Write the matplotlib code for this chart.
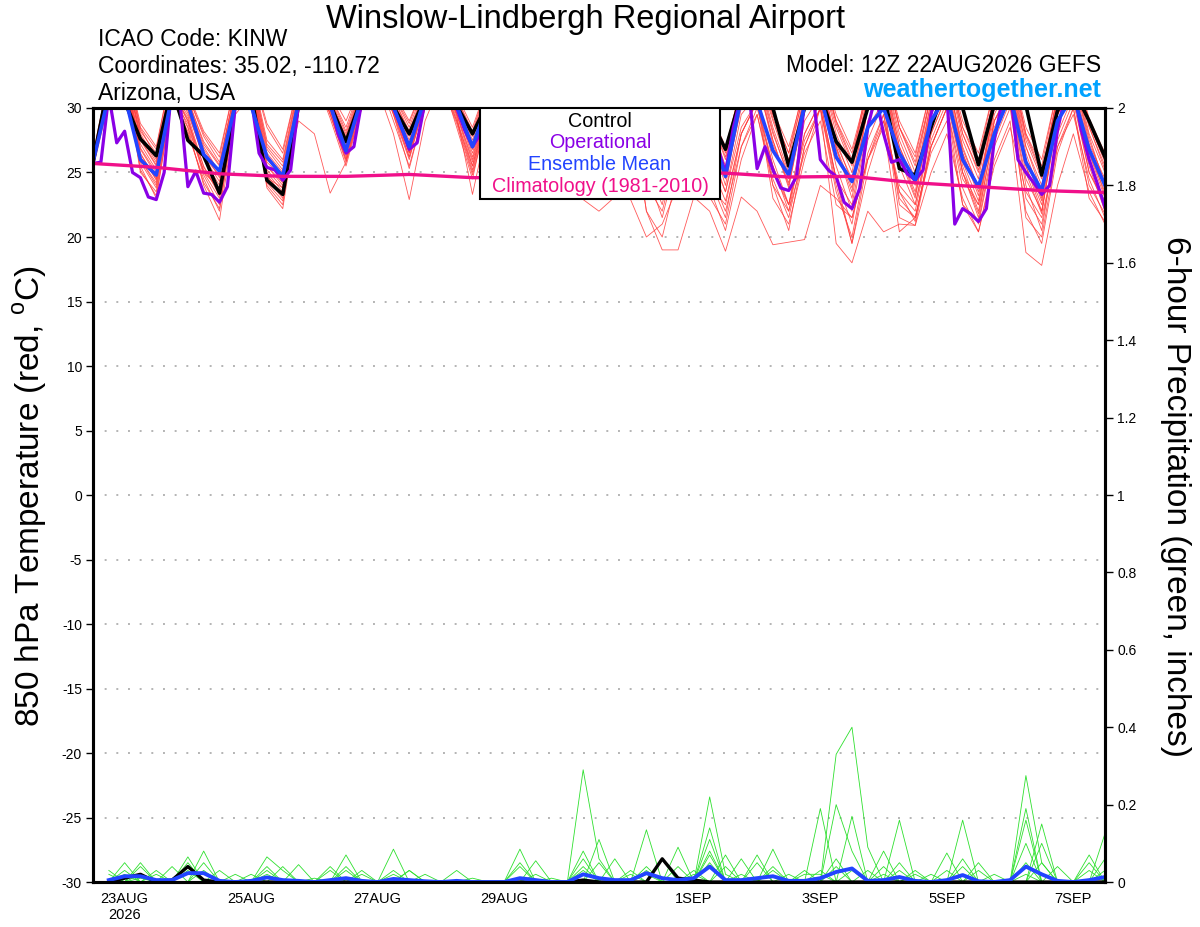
import matplotlib
matplotlib.use("Agg")
import matplotlib.pyplot as plt
import numpy as np
import pandas as pd
from matplotlib.patches import Rectangle

plt.rcParams['font.family'] = ['Liberation Sans', 'DejaVu Sans']
plt.rcParams['mathtext.fontset'] = 'custom'
plt.rcParams['mathtext.rm'] = 'Liberation Sans'
plt.rcParams['axes.unicode_minus'] = False

# 6-hourly GEFS steps from 12Z 22AUG2026, operational run is 3-hourly
t6 = pd.date_range('2026-08-22 12:00', periods=65, freq='6h')
t3 = pd.date_range('2026-08-22 12:00', periods=129, freq='3h')
t_clim = pd.date_range('2026-08-22 12:00', periods=17, freq='24h')
t_precip = t6[1:]

tick_dates = pd.to_datetime(['2026-08-23', '2026-08-25', '2026-08-27', '2026-08-29',
                             '2026-09-01', '2026-09-03', '2026-09-05', '2026-09-07'])
tick_labels = ['23AUG\n2026', '25AUG', '27AUG', '29AUG', '1SEP', '3SEP', '5SEP', '7SEP']

# 850 hPa temperature (C), ensemble members
temp_members = [
    [25.6, 31.0, 33.0, 26.0, 24.0, 31.5, 29.0, 25.5, 23.2, 30.2, 31.8, 25.0, 23.5, 30.5, 33.0, 30.0,
     26.5, 30.8, 33.0, 30.2, 26.8, 31.0, 33.0, 29.6, 26.0, 30.6, 32.8, 29.5, 26.2, 30.8, 32.5, 28.5,
     25.0, 30.0, 32.0, 27.0, 23.5, 29.5, 32.0, 28.0, 24.0, 30.5, 32.0, 27.5, 23.8, 30.0, 32.0, 27.0,
     23.0, 30.0, 32.0, 26.5, 23.2, 29.5, 32.0, 26.5, 23.5, 30.0, 32.0, 26.0, 22.8, 30.0, 32.0, 27.0,
     23.2],
    [26.2, 32.5, 34.0, 28.5, 26.8, 33.0, 31.0, 28.0, 26.2, 32.0, 33.0, 28.5, 26.5, 32.0, 34.0, 31.0,
     28.5, 32.0, 34.0, 31.0, 28.8, 32.0, 34.0, 30.8, 28.2, 32.0, 34.0, 31.0, 28.0, 32.0, 34.0, 30.5,
     27.5, 32.0, 34.0, 30.0, 27.0, 32.0, 34.0, 30.0, 26.5, 32.0, 34.0, 29.5, 26.5, 32.0, 34.0, 29.0,
     26.0, 32.0, 34.0, 28.5, 26.2, 31.5, 33.5, 28.5, 26.0, 31.5, 33.5, 28.0, 25.5, 31.5, 33.5, 29.0,
     26.0],
    [25.5, 30.8, 32.5, 25.0, 23.5, 31.0, 28.0, 24.5, 22.0, 30.0, 31.5, 24.0, 22.5, 30.5, 32.5, 29.5,
     26.0, 30.5, 32.5, 29.8, 26.5, 30.5, 32.5, 29.0, 25.5, 30.0, 32.0, 28.5, 25.5, 30.0, 31.5, 27.0,
     24.5, 28.5, 30.0, 22.0, 19.0, 19.0, 23.1, 22.0, 18.9, 23.1, 22.0, 19.4, 19.6, 19.8, 24.0, 23.0,
     21.5, 26.0, 29.0, 24.0, 22.5, 28.0, 31.0, 25.5, 22.0, 29.0, 31.5, 25.0, 21.8, 29.5, 31.5, 26.0,
     22.5],
    [25.4, 31.0, 32.5, 25.5, 23.0, 30.5, 28.5, 24.0, 21.3, 29.5, 31.0, 23.8, 22.2, 30.0, 32.5, 29.2,
     25.5, 30.0, 32.5, 29.0, 25.5, 30.0, 32.0, 28.8, 24.8, 29.5, 31.5, 27.0, 24.5, 28.5, 30.0, 22.9,
     22.0, 23.1, 22.9, 20.0, 21.0, 24.0, 27.0, 24.0, 22.5, 28.0, 30.5, 25.0, 22.5, 27.5, 30.0, 19.5,
     18.0, 22.0, 20.4, 21.0, 20.9, 25.0, 28.0, 23.0, 20.4, 26.0, 29.0, 18.8, 17.8, 24.0, 28.0, 23.5,
     21.0],
    [25.9, 32.0, 33.5, 27.5, 25.5, 32.5, 30.5, 27.0, 25.0, 31.0, 32.5, 26.5, 25.0, 31.0, 33.5, 30.8,
     27.5, 31.5, 33.5, 30.5, 27.5, 31.5, 33.5, 30.5, 27.0, 31.2, 33.0, 30.2, 27.0, 31.0, 33.0, 29.5,
     26.5, 31.0, 33.0, 29.0, 26.0, 31.0, 33.0, 29.0, 25.5, 31.0, 33.0, 28.5, 25.0, 31.0, 33.0, 28.0,
     25.0, 31.0, 33.0, 27.5, 24.5, 30.5, 33.0, 27.5, 24.5, 31.0, 33.0, 27.0, 24.0, 31.0, 33.0, 28.0,
     25.0],
    [25.7, 31.5, 33.0, 26.8, 24.8, 31.8, 29.8, 26.0, 24.0, 30.8, 32.0, 25.5, 24.0, 29.0, 28.0, 23.4,
     25.8, 30.0, 31.5, 28.0, 22.9, 29.0, 32.0, 29.0, 25.0, 30.0, 32.5, 29.0, 25.8, 30.5, 32.5, 28.0,
     24.5, 29.0, 31.0, 24.0, 22.0, 27.0, 30.5, 26.5, 23.5, 29.5, 31.0, 26.0, 22.5, 29.0, 31.0, 25.5,
     22.0, 28.5, 30.5, 21.5, 20.9, 27.0, 30.0, 24.5, 22.5, 29.0, 31.0, 24.5, 22.0, 29.0, 31.0, 25.5,
     22.0],
    [26.0, 32.0, 33.2, 28.0, 26.0, 32.0, 30.8, 27.2, 25.5, 31.5, 32.8, 27.0, 25.5, 31.5, 33.5, 30.6,
     27.8, 31.5, 33.5, 30.8, 28.0, 31.5, 33.5, 30.5, 27.5, 31.5, 33.5, 30.3, 27.0, 31.5, 33.0, 29.8,
     26.5, 31.0, 33.0, 29.5, 26.5, 31.0, 33.0, 29.5, 26.0, 31.0, 33.0, 29.0, 25.5, 31.0, 33.0, 28.5,
     25.5, 31.0, 33.0, 28.0, 25.0, 31.0, 33.0, 28.0, 25.0, 31.0, 33.0, 27.5, 24.5, 31.0, 33.0, 28.5,
     25.5],
    [25.5, 31.2, 32.8, 26.2, 24.5, 31.2, 29.2, 25.0, 23.8, 30.5, 31.8, 25.5, 24.2, 30.8, 33.0, 30.0,
     27.0, 31.0, 33.0, 30.0, 27.2, 31.0, 33.0, 30.0, 26.5, 30.8, 33.0, 29.5, 26.0, 30.5, 32.5, 28.8,
     25.5, 30.0, 32.0, 27.5, 24.0, 29.0, 31.5, 27.0, 23.5, 28.5, 30.5, 23.0, 21.0, 26.0, 30.0, 24.5,
     22.5, 29.0, 31.5, 25.5, 22.5, 28.5, 31.5, 25.0, 22.5, 29.0, 31.5, 25.5, 22.0, 29.5, 31.5, 26.5,
     23.0],
    [26.1, 31.8, 33.5, 27.8, 25.8, 32.2, 30.2, 26.8, 25.0, 31.2, 32.5, 26.8, 25.2, 31.2, 33.2, 30.5,
     27.2, 31.2, 33.2, 30.5, 27.2, 31.2, 33.2, 30.2, 26.8, 31.0, 33.0, 30.0, 26.5, 31.0, 33.0, 29.0,
     26.0, 30.5, 32.5, 28.5, 25.5, 30.5, 32.5, 28.5, 25.0, 30.5, 32.5, 27.5, 24.0, 30.0, 32.5, 27.0,
     23.8, 30.0, 32.5, 26.5, 23.5, 30.0, 32.5, 27.0, 23.8, 30.5, 32.5, 26.5, 23.0, 30.5, 32.5, 27.5,
     24.2],
    [25.3, 30.5, 32.5, 25.8, 23.8, 30.8, 28.8, 24.8, 22.5, 30.0, 31.5, 24.5, 23.0, 30.5, 32.8, 29.8,
     26.2, 30.5, 32.8, 29.5, 26.0, 30.5, 32.5, 29.5, 25.5, 30.5, 32.5, 29.0, 25.8, 30.0, 32.0, 28.0,
     25.0, 29.5, 31.5, 26.5, 23.0, 28.5, 31.0, 25.0, 22.0, 27.0, 29.5, 24.0, 22.0, 26.5, 29.0, 22.5,
     21.5, 26.0, 28.5, 20.4, 21.5, 26.5, 29.0, 22.5, 20.4, 25.5, 28.5, 23.5, 21.5, 27.0, 29.5, 24.5,
     21.5],
    [25.8, 31.5, 33.0, 27.2, 25.2, 32.0, 30.0, 26.2, 24.8, 31.0, 32.2, 26.0, 24.8, 31.0, 33.2, 30.4,
     26.8, 30.8, 33.0, 30.2, 26.5, 30.8, 33.0, 30.0, 26.2, 30.8, 33.0, 29.8, 26.8, 31.0, 33.0, 29.2,
     26.2, 30.8, 32.8, 28.8, 25.5, 30.5, 32.8, 28.2, 24.8, 30.5, 32.5, 28.0, 24.8, 30.5, 32.5, 27.5,
     24.2, 30.5, 32.5, 27.0, 24.2, 30.0, 32.5, 26.8, 23.8, 30.0, 32.5, 27.0, 23.5, 30.5, 32.5, 27.8,
     24.0],
    [25.6, 31.2, 32.8, 26.5, 24.4, 31.5, 28.5, 25.2, 23.5, 30.5, 31.8, 24.8, 23.2, 30.2, 32.8, 29.5,
     25.8, 30.2, 32.8, 29.5, 25.3, 30.0, 32.5, 28.5, 24.5, 30.0, 32.0, 28.0, 24.8, 29.5, 31.5, 27.5,
     23.5, 28.5, 30.5, 22.0, 20.0, 25.0, 28.0, 23.1, 21.0, 27.0, 30.0, 25.5, 22.5, 28.0, 30.5, 24.5,
     19.5, 25.0, 29.0, 23.5, 22.0, 28.0, 31.0, 25.0, 21.5, 28.5, 31.0, 24.0, 20.5, 28.0, 31.0, 25.0,
     22.5],
    [26.3, 32.2, 33.8, 28.2, 26.5, 32.5, 31.0, 27.8, 25.8, 31.5, 33.0, 27.5, 26.0, 31.8, 33.8, 31.0,
     28.2, 31.8, 33.8, 31.0, 28.5, 31.8, 33.8, 30.8, 28.0, 31.8, 33.5, 30.5, 27.5, 31.5, 33.5, 30.0,
     27.0, 31.5, 33.5, 29.8, 26.5, 31.5, 33.5, 29.5, 26.2, 31.5, 33.5, 29.2, 26.0, 31.5, 33.5, 28.8,
     25.8, 31.5, 33.5, 28.5, 25.5, 31.0, 33.5, 28.0, 25.2, 31.0, 33.5, 28.0, 25.0, 31.0, 33.5, 28.8,
     25.8],
    [25.4, 30.8, 32.6, 25.2, 23.2, 30.6, 28.2, 24.2, 22.2, 29.8, 31.2, 24.2, 22.8, 30.2, 32.6, 29.6,
     26.0, 30.4, 32.6, 29.6, 26.2, 30.4, 32.6, 29.2, 25.2, 30.2, 32.2, 28.8, 25.2, 30.0, 31.8, 27.5,
     24.0, 29.0, 31.0, 26.0, 23.5, 28.5, 31.0, 25.8, 22.8, 28.0, 30.5, 25.5, 22.0, 28.0, 30.5, 24.5,
     21.0, 27.5, 30.5, 22.5, 21.5, 27.0, 30.0, 23.8, 21.0, 27.0, 30.0, 22.0, 19.5, 26.5, 30.0, 24.0,
     21.8],
    [25.9, 31.6, 33.2, 27.6, 25.6, 32.2, 30.6, 26.6, 24.6, 31.0, 32.4, 26.2, 24.4, 31.0, 33.4, 30.6,
     27.6, 31.2, 33.4, 30.6, 27.8, 31.2, 33.4, 30.4, 27.2, 31.2, 33.2, 30.0, 26.8, 31.0, 33.0, 29.4,
     26.0, 30.8, 32.8, 28.6, 25.0, 30.5, 32.8, 28.0, 25.2, 30.8, 32.8, 28.2, 24.5, 30.5, 32.8, 27.2,
     24.5, 30.5, 32.8, 27.0, 24.0, 30.5, 32.8, 26.5, 23.2, 30.0, 32.5, 26.0, 23.2, 30.5, 32.5, 27.2,
     24.5],
    [25.5, 31.0, 32.8, 26.0, 24.2, 31.2, 29.0, 25.0, 23.0, 30.2, 31.6, 24.6, 23.8, 30.6, 32.8, 30.0,
     26.5, 30.6, 32.8, 29.8, 26.2, 30.6, 32.8, 29.6, 25.8, 30.4, 32.6, 29.2, 25.5, 30.2, 32.2, 28.0,
     24.2, 29.5, 31.5, 25.0, 21.5, 26.5, 29.0, 23.8, 20.5, 26.0, 29.5, 24.5, 21.5, 27.0, 30.0, 24.0,
     19.5, 26.0, 29.5, 23.5, 21.2, 27.5, 30.5, 25.0, 21.8, 28.0, 31.0, 23.0, 21.0, 27.5, 30.5, 25.0,
     22.8],
    [25.7, 31.4, 33.0, 26.9, 25.0, 31.8, 29.6, 26.2, 24.3, 30.8, 32.2, 25.8, 24.6, 31.0, 33.2, 30.3,
     27.3, 31.0, 33.2, 30.3, 27.0, 31.0, 33.2, 30.2, 26.8, 31.0, 33.0, 29.8, 26.0, 30.8, 32.8, 29.0,
     25.5, 30.5, 32.5, 28.2, 24.8, 30.0, 32.5, 27.5, 24.5, 30.0, 32.2, 27.2, 24.2, 30.0, 32.2, 26.8,
     23.5, 30.0, 32.2, 26.2, 23.0, 29.5, 32.0, 25.8, 22.8, 29.5, 32.0, 25.5, 22.5, 29.5, 32.0, 26.5,
     23.5],
    [26.0, 31.8, 33.4, 28.4, 26.2, 32.4, 30.6, 27.4, 25.6, 31.4, 32.8, 27.2, 25.8, 31.6, 33.6, 30.8,
     28.0, 31.6, 33.6, 30.8, 28.2, 31.6, 33.6, 30.6, 27.8, 31.6, 33.4, 30.4, 27.6, 31.4, 33.4, 30.0,
     27.0, 31.2, 33.2, 29.6, 26.8, 31.2, 33.2, 29.5, 26.8, 31.2, 33.2, 29.5, 26.5, 31.2, 33.2, 29.0,
     26.5, 31.2, 33.2, 28.5, 25.8, 31.0, 33.2, 28.5, 25.5, 31.0, 33.2, 27.8, 24.8, 31.0, 33.2, 28.6,
     25.2],
    [25.6, 31.0, 32.8, 26.4, 24.6, 31.4, 29.4, 25.4, 23.6, 30.4, 31.8, 25.2, 23.8, 30.4, 32.8, 29.8,
     26.4, 30.6, 32.8, 29.8, 26.6, 30.6, 32.8, 29.4, 23.3, 29.0, 32.0, 28.5, 25.0, 30.0, 32.0, 27.5,
     23.0, 28.5, 31.0, 25.5, 22.5, 28.5, 31.0, 24.5, 21.5, 28.0, 30.5, 24.0, 20.5, 27.0, 30.0, 23.5,
     20.0, 26.5, 29.5, 23.0, 21.5, 27.0, 30.0, 22.5, 21.2, 27.5, 30.5, 21.5, 20.0, 27.0, 30.0, 23.0,
     21.2],
    [26.4, 32.4, 33.8, 28.8, 27.0, 33.0, 31.2, 28.2, 26.5, 32.0, 33.2, 28.8, 26.8, 32.0, 34.0, 31.2,
     29.0, 32.0, 34.0, 31.2, 29.0, 32.0, 34.0, 31.0, 28.5, 32.0, 34.0, 31.0, 28.0, 31.8, 33.8, 30.5,
     27.2, 31.5, 33.5, 30.0, 26.8, 31.5, 33.5, 29.8, 27.0, 31.5, 33.5, 29.8, 27.0, 31.5, 33.5, 29.5,
     26.8, 31.5, 33.5, 29.0, 26.5, 31.5, 33.5, 29.0, 26.5, 31.5, 33.5, 28.5, 26.0, 31.5, 33.5, 29.2,
     26.5],
]

temp_control = [25.8, 32.0, 30.5, 27.6, 26.3, 31.5, 27.5, 26.3, 23.4, 30.3, 31.0, 24.4, 23.3, 30.2, 33.0, 30.3,
                27.4, 30.8, 33.0, 30.1, 28.0, 30.8, 33.0, 30.2, 28.0, 30.5, 33.0, 30.0, 27.5, 31.0, 33.0, 29.5,
                27.0, 31.0, 33.0, 30.0, 27.0, 31.0, 33.0, 29.3, 26.8, 31.0, 33.0, 30.0, 25.5, 30.0, 31.0, 27.4,
                25.8, 30.0, 31.2, 25.3, 24.8, 28.5, 32.0, 30.0, 25.6, 30.3, 32.0, 30.2, 24.8, 29.8, 31.5, 29.0,
                26.2]

temp_mean = [25.8, 31.0, 31.0, 26.0, 24.8, 31.0, 30.3, 26.4, 25.1, 30.3, 30.2, 26.2, 24.7, 30.5, 32.0, 30.2,
             26.7, 30.8, 32.0, 30.1, 27.0, 30.8, 32.0, 30.2, 27.0, 30.5, 32.0, 30.0, 26.5, 31.0, 32.0, 29.5,
             26.0, 30.5, 32.0, 29.5, 25.5, 30.5, 32.0, 28.5, 24.7, 30.8, 30.5, 26.7, 24.8, 30.2, 31.0, 26.2,
             24.3, 28.5, 30.0, 26.5, 24.4, 29.0, 31.0, 26.0, 23.9, 28.0, 31.0, 25.8, 23.6, 29.0, 31.0, 26.8,
             24.0]

temp_oper = [25.7, 25.8, 31.0, 27.3, 28.2, 25.0, 24.6, 23.1,
             22.9, 25.0, 32.0, 30.5, 23.9, 25.1, 23.4, 23.3,
             22.7, 23.9, 30.2, 32.0, 30.8, 26.5, 25.4, 25.2,
             24.4, 25.2, 30.3, 32.0, 33.0, 32.0, 30.5, 28.0,
             26.5, 27.0, 30.5, 33.0, 33.5, 32.0, 30.0, 28.5,
             26.8, 27.3, 30.5, 33.0, 33.5, 32.0, 30.0, 28.3,
             27.0, 28.0, 30.5, 33.0, 33.5, 32.0, 30.0, 28.0,
             26.5, 27.5, 30.5, 33.0, 33.5, 32.0, 29.5, 27.5,
             26.0, 27.0, 30.0, 32.5, 33.0, 31.5, 29.0, 27.0,
             25.5, 26.5, 29.5, 32.0, 33.0, 31.5, 29.0, 27.0,
             25.0, 28.5, 31.0, 31.0, 25.3, 27.0, 25.2, 23.8,
             23.6, 24.7, 30.5, 31.5, 26.0, 25.2, 24.7, 22.7,
             22.2, 23.8, 28.5, 31.0, 28.0, 25.8, 26.0, 24.9,
             24.4, 25.2, 29.5, 32.0, 31.0, 21.0, 22.2, 21.8,
             21.2, 22.2, 27.5, 30.5, 31.5, 26.0, 25.0, 24.2,
             23.3, 24.0, 28.3, 31.0, 31.5, 28.3, 26.0, 24.2,
             22.3]

temp_clim = [25.7, 25.4, 24.9, 24.7, 24.7, 24.85, 24.6, 24.6, 24.8, 25.0, 24.95, 24.65, 24.7,
             24.2, 23.9, 23.6, 23.45]

# 6-hour precipitation (inches), ensemble members, 18Z 22AUG onward
precip_members = [
    [0, 0.05, 0, 0, 0, 0, 0.08, 0, 0, 0, 0, 0, 0, 0, 0, 0.04,
     0, 0, 0, 0, 0, 0, 0, 0, 0, 0, 0, 0, 0, 0, 0.29, 0.06,
     0, 0, 0, 0, 0, 0, 0.05, 0, 0, 0, 0, 0, 0, 0, 0.33, 0.4,
     0.09, 0, 0, 0, 0, 0, 0.04, 0, 0, 0, 0.1, 0, 0, 0, 0, 0],
    [0, 0, 0.05, 0, 0, 0.065, 0, 0, 0, 0, 0.03, 0, 0, 0, 0, 0,
     0, 0, 0.085, 0, 0, 0, 0, 0, 0, 0, 0.04, 0, 0, 0, 0, 0,
     0, 0, 0.135, 0, 0, 0, 0.22, 0.02, 0, 0, 0, 0, 0, 0.19, 0, 0,
     0, 0, 0.05, 0, 0, 0, 0, 0, 0, 0, 0.275, 0.05, 0, 0, 0, 0],
    [0.03, 0, 0, 0, 0, 0.05, 0, 0, 0, 0, 0.065, 0.03, 0, 0, 0, 0,
     0, 0, 0, 0, 0, 0, 0, 0, 0, 0, 0, 0.055, 0, 0, 0, 0.11,
     0, 0, 0, 0, 0.09, 0, 0, 0, 0, 0, 0.085, 0, 0, 0, 0.2, 0.08,
     0, 0, 0, 0, 0, 0, 0.16, 0, 0, 0, 0, 0, 0, 0, 0, 0.125],
    [0, 0, 0.04, 0, 0, 0, 0.05, 0, 0, 0, 0, 0, 0, 0, 0, 0.07,
     0, 0, 0, 0.03, 0, 0, 0, 0, 0, 0, 0.085, 0, 0, 0, 0.08, 0,
     0, 0, 0, 0, 0, 0, 0.14, 0, 0, 0.07, 0, 0, 0, 0, 0, 0.17,
     0, 0.08, 0, 0, 0, 0, 0, 0, 0, 0, 0.19, 0, 0, 0, 0.05, 0],
    [0, 0.03, 0, 0.03, 0, 0, 0, 0, 0, 0, 0, 0, 0.045, 0, 0, 0,
     0, 0, 0, 0, 0, 0, 0.03, 0, 0, 0, 0, 0, 0, 0, 0.06, 0,
     0, 0, 0.04, 0, 0, 0, 0.11, 0, 0.06, 0, 0, 0, 0, 0, 0.06, 0,
     0, 0, 0.16, 0, 0, 0, 0, 0, 0, 0, 0, 0.15, 0, 0, 0, 0.06],
    [0, 0, 0, 0, 0.04, 0, 0, 0, 0, 0, 0.04, 0, 0, 0, 0.04, 0,
     0, 0, 0, 0, 0, 0, 0, 0, 0, 0, 0.05, 0, 0, 0, 0, 0.05,
     0, 0, 0, 0.06, 0, 0, 0.08, 0, 0, 0, 0.04, 0, 0, 0, 0, 0.03,
     0, 0, 0, 0, 0, 0.075, 0, 0, 0, 0, 0.16, 0, 0, 0, 0.07, 0],
    [0, 0, 0, 0, 0, 0.04, 0, 0, 0, 0, 0, 0.04, 0, 0, 0, 0,
     0.03, 0, 0, 0, 0, 0, 0, 0, 0, 0, 0, 0, 0, 0, 0.04, 0,
     0, 0, 0.03, 0, 0, 0, 0, 0.07, 0, 0, 0, 0, 0.03, 0, 0, 0,
     0, 0.04, 0, 0, 0, 0, 0, 0.05, 0, 0, 0, 0.1, 0, 0, 0, 0.03],
    [0, 0, 0.02, 0, 0, 0, 0.03, 0, 0, 0, 0, 0, 0, 0, 0, 0,
     0, 0, 0.03, 0, 0.02, 0, 0, 0, 0, 0, 0, 0, 0, 0, 0, 0,
     0.06, 0, 0, 0, 0, 0.03, 0, 0, 0, 0.05, 0, 0, 0, 0, 0.04, 0,
     0, 0, 0, 0.03, 0, 0, 0.06, 0, 0, 0, 0.05, 0, 0, 0, 0, 0],
    [0, 0.02, 0, 0, 0, 0, 0, 0.03, 0, 0, 0, 0, 0, 0, 0, 0.03,
     0, 0, 0, 0.03, 0, 0, 0, 0, 0, 0, 0, 0, 0, 0, 0.03, 0,
     0, 0, 0, 0, 0.04, 0, 0.07, 0, 0, 0, 0, 0, 0, 0.03, 0, 0,
     0.03, 0, 0, 0, 0, 0.03, 0, 0, 0, 0, 0, 0, 0.04, 0, 0, 0],
    [0.02, 0, 0, 0, 0, 0.03, 0, 0, 0.02, 0, 0, 0, 0, 0, 0.03, 0,
     0, 0, 0, 0, 0, 0, 0, 0.01, 0, 0, 0, 0, 0, 0, 0, 0,
     0, 0.03, 0, 0, 0, 0, 0, 0.04, 0, 0, 0.03, 0, 0, 0, 0, 0,
     0, 0, 0.03, 0, 0, 0, 0, 0.03, 0, 0, 0, 0, 0, 0, 0.03, 0],
    [0, 0, 0, 0.02, 0, 0, 0, 0, 0, 0, 0.02, 0, 0, 0, 0, 0,
     0.02, 0, 0, 0, 0, 0, 0, 0, 0, 0, 0, 0.02, 0, 0, 0, 0,
     0, 0, 0.02, 0, 0, 0.02, 0, 0, 0, 0, 0, 0.02, 0, 0, 0, 0,
     0, 0.02, 0, 0, 0.02, 0, 0, 0, 0.02, 0, 0, 0.05, 0, 0, 0, 0],
    [0, 0, 0.01, 0, 0, 0, 0, 0, 0, 0.02, 0, 0, 0, 0.01, 0, 0,
     0, 0, 0.02, 0, 0, 0, 0, 0, 0, 0, 0, 0, 0.01, 0, 0, 0,
     0, 0.02, 0, 0, 0, 0, 0, 0, 0.02, 0, 0, 0, 0.02, 0.02, 0, 0,
     0, 0, 0, 0.02, 0, 0, 0, 0, 0, 0, 0.02, 0, 0, 0, 0, 0],
]

precip_control = [0, 0.01, 0.02, 0, 0.005, 0.04, 0.005, 0, 0, 0, 0, 0, 0, 0, 0, 0,
                  0, 0, 0, 0, 0, 0, 0, 0, 0, 0, 0, 0, 0, 0, 0.005, 0,
                  0, 0, 0, 0.06, 0.01, 0.005, 0, 0, 0, 0, 0, 0, 0, 0, 0, 0,
                  0, 0, 0, 0, 0, 0, 0, 0, 0, 0, 0, 0, 0, 0, 0, 0]

precip_mean = [0.005, 0.015, 0.015, 0.005, 0.005, 0.023, 0.023, 0.003, 0, 0.003, 0.012, 0.005,
               0.003, 0, 0.005, 0.01, 0.003, 0, 0.008, 0.005, 0.002, 0, 0.003, 0,
               0, 0, 0.01, 0.005, 0, 0, 0.02, 0.01, 0.005, 0.005, 0.023, 0.01,
               0.005, 0.01, 0.04, 0.005, 0.005, 0.01, 0.015, 0.003, 0.003, 0.01, 0.026, 0.035,
               0.003, 0.005, 0.013, 0.003, 0, 0.005, 0.018, 0.002, 0, 0.005, 0.04, 0.02,
               0.003, 0, 0.005, 0.013]

RED = '#ff3c3c'
GREEN = '#2ee02e'
PURPLE = '#8a00e6'
BLUE = '#2244ff'
PINK = '#f0108a'

fig = plt.figure(figsize=(12, 9.27), dpi=100)
ax = fig.add_axes([0.0775, 0.0485, 0.8433, 0.835])
ax2 = ax.twinx()

for m in temp_members:
    ax.plot(t6, m, color=RED, lw=0.6, alpha=0.85)
ax.plot(t6, temp_control, color='black', lw=2.6)
ax.plot(t3, temp_oper, color=PURPLE, lw=2.3)
ax.plot(t6, temp_mean, color=BLUE, lw=2.6)
ax.plot(t_clim, temp_clim, color=PINK, lw=2.4)

for m in precip_members:
    ax2.plot(t_precip, m, color=GREEN, lw=0.6)
ax2.plot(t_precip, precip_control, color='black', lw=2.4)
ax2.plot(t_precip, precip_mean, color=BLUE, lw=2.8)

ax.set_xlim(t6[0], t6[-1])
ax.set_ylim(-30, 30)
ax.set_yticks(range(-30, 31, 5))
ax.grid(axis='y', color='#b4b4b4', linestyle=(0, (1, 5)), linewidth=1.4)
ax.set_xticks(tick_dates)
ax.set_xticklabels(tick_labels)
ax.tick_params(axis='x', length=0, labelsize=10.5, pad=7)
ax.tick_params(axis='y', direction='out', length=5, width=1, labelsize=10, pad=3)

ax2.set_ylim(0, 2)
p_ticks = np.round(np.arange(0, 2.01, 0.2), 1)
ax2.set_yticks(p_ticks)
ax2.set_yticklabels(['{:g}'.format(v) for v in p_ticks])
ax2.tick_params(axis='y', direction='out', length=6, width=1, labelsize=10, pad=3)

for a in (ax, ax2):
    for s in a.spines.values():
        s.set_linewidth(2.2)

# legend box
ax2.add_patch(Rectangle((0.3824, 0.8824), 0.2372, 0.1176, transform=ax2.transAxes,
                        facecolor='white', edgecolor='black', lw=1.5, zorder=10))
leg_items = [('Control', 'black', 0.982), ('Operational', PURPLE, 0.955),
             ('Ensemble Mean', BLUE, 0.927), ('Climatology (1981-2010)', PINK, 0.899)]
for txt, col, yy in leg_items:
    ax2.text(0.501, yy, txt, color=col, fontsize=14.2, ha='center', va='center',
             transform=ax2.transAxes, zorder=11)

fig.text(0.488, 1 - 28 / 927, 'Winslow-Lindbergh Regional Airport', fontsize=23.5,
         ha='center', va='baseline')
fig.text(98 / 1200, 1 - 46 / 927, 'ICAO Code: KINW', fontsize=16.5, va='baseline')
fig.text(98 / 1200, 1 - 73 / 927, 'Coordinates: 35.02, -110.72', fontsize=16.5, va='baseline')
fig.text(98 / 1200, 1 - 100 / 927, 'Arizona, USA', fontsize=16.5, va='baseline')
fig.text(1101 / 1200, 1 - 72 / 927, 'Model: 12Z 22AUG2026 GEFS', fontsize=16.5,
         ha='right', va='baseline')
fig.text(1101 / 1200, 1 - 97 / 927, 'weathertogether.net', fontsize=18, fontweight='bold',
         color='#00a2ff', ha='right', va='baseline')

fig.text(30 / 1200, 1 - 496 / 927, '850 hPa Temperature (red, $^{\\rm o}$C)', fontsize=24,
         rotation=90, ha='center', va='center')
fig.text(1175 / 1200, 1 - 496 / 927, '6-hour Precipitation (green, inches)', fontsize=24,
         rotation=270, ha='center', va='center')

fig.savefig('out.png', dpi=100)
